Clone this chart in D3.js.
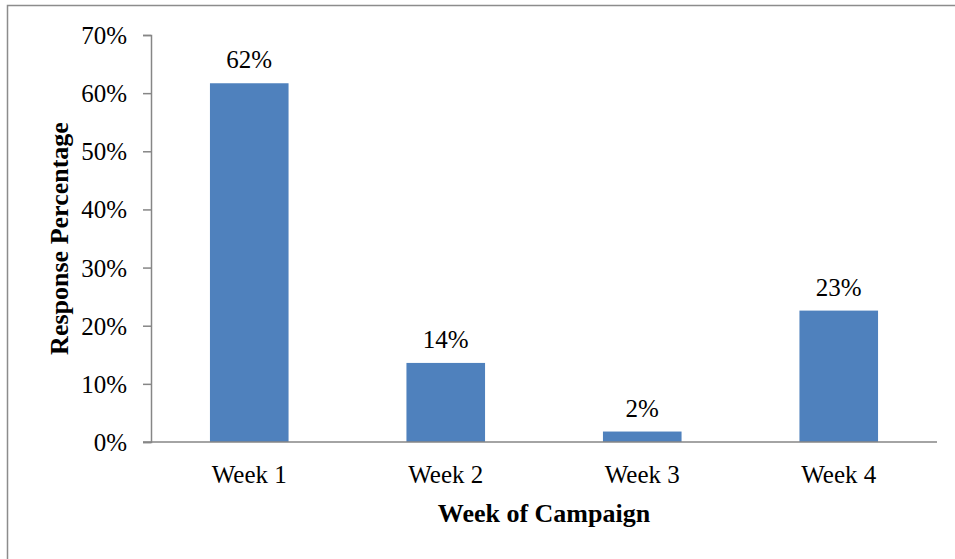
<!DOCTYPE html>
<html><head><meta charset="utf-8">
<script src="https://cdn.jsdelivr.net/npm/d3@7/dist/d3.min.js"></script>
<style>html,body{margin:0;padding:0;background:#fff;}svg{display:block;}</style>
</head><body>
<svg id="c" width="955" height="559"></svg>
<script>
const categories = ["Week 1", "Week 2", "Week 3", "Week 4"];
const values = [61.7, 13.6, 1.8, 22.6];
const yTicks = [0, 10, 20, 30, 40, 50, 60, 70];
const xTitle = "Week of Campaign";
const yTitle = "Response Percentage";

const svg = d3.select("#c");
const W = 955, H = 559;
const m = {left: 151, right: 18, top: 35, bottom: 117};
const font = "'Liberation Serif','Times New Roman',serif";

// outer border
svg.append("rect").attr("x", 7.5).attr("y", 5.5).attr("width", W + 10).attr("height", H + 10)
  .attr("fill", "none").attr("stroke", "#8c8c8c").attr("stroke-width", 1.5);

const x = d3.scaleBand().domain(categories).range([m.left, W - m.right]).paddingInner(0.6).paddingOuter(0.3);
const y = d3.scaleLinear().domain([0, 70]).range([H - m.bottom, m.top]);

// bars
svg.selectAll("rect.bar").data(values).join("rect").attr("class", "bar")
  .attr("x", (d, i) => x(categories[i])).attr("width", x.bandwidth())
  .attr("y", d => y(d)).attr("height", d => y(0) - y(d))
  .attr("fill", "#4F81BD");

// data labels
svg.selectAll("text.lbl").data(values).join("text").attr("class", "lbl")
  .attr("x", (d, i) => x(categories[i]) + x.bandwidth() / 2)
  .attr("y", d => y(d) - 15)
  .attr("text-anchor", "middle").attr("font-family", font).attr("font-size", 25)
  .text(d => Math.round(d) + "%");

// y axis
const ya = svg.append("g").attr("transform", `translate(${m.left},0)`)
  .call(d3.axisLeft(y).tickValues(yTicks).tickSize(8).tickPadding(16).tickFormat(d => d + "%"));
ya.attr("font-family", font);
ya.select(".domain").attr("stroke", "#868686").attr("stroke-width", 1.5);
ya.selectAll(".tick line").attr("stroke", "#868686").attr("stroke-width", 1.5);
ya.selectAll(".tick text").attr("font-family", font).attr("font-size", 25).attr("fill", "#000").attr("dy", "0.34em");

// x axis
const xa = svg.append("g").attr("transform", `translate(0,${y(0)})`)
  .call(d3.axisBottom(x).tickSize(0).tickPadding(23));
xa.attr("font-family", font);
xa.select(".domain").attr("stroke", "#868686").attr("stroke-width", 1.5)
  .attr("d", `M${m.left - 8},0H${W - m.right}`);
xa.selectAll(".tick text").attr("font-family", font).attr("font-size", 25).attr("fill", "#000");

// axis titles
svg.append("text").attr("x", (m.left + W - m.right) / 2 + 0).attr("y", 522)
  .attr("text-anchor", "middle").attr("font-family", font).attr("font-size", 26).attr("font-weight", "bold")
  .text(xTitle);
svg.append("text").attr("transform", `translate(68,${(m.top + H - m.bottom) / 2}) rotate(-90)`)
  .attr("text-anchor", "middle").attr("font-family", font).attr("font-size", 26).attr("font-weight", "bold")
  .text(yTitle);
</script>
</body></html>
